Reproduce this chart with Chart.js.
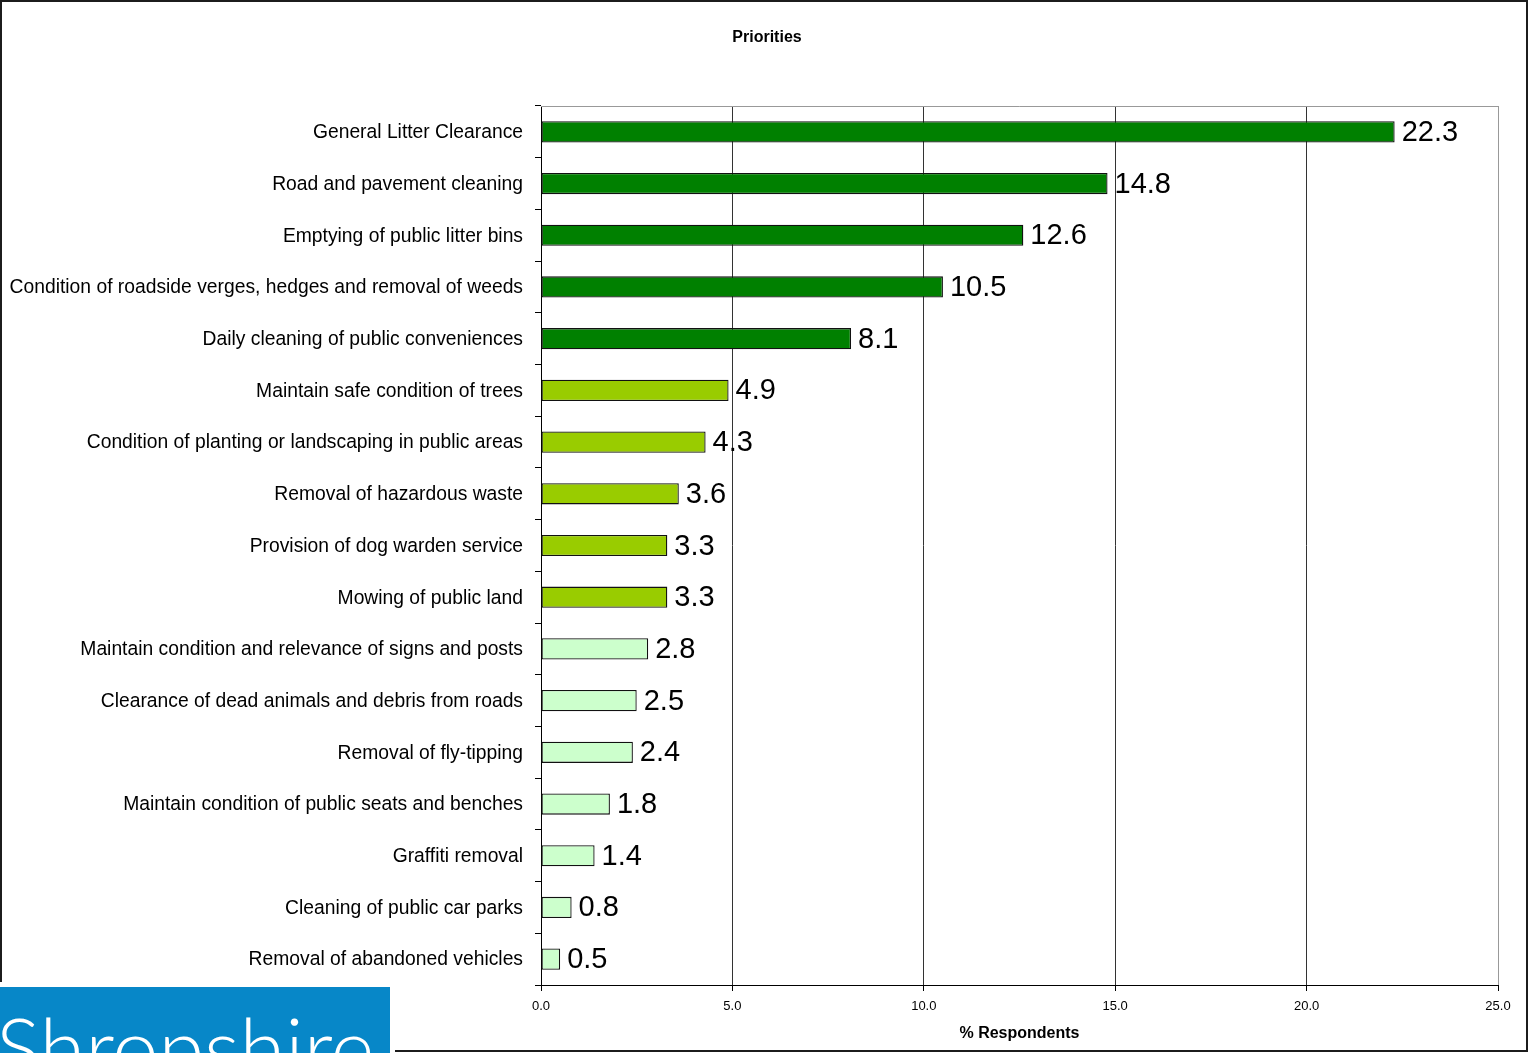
<!DOCTYPE html>
<html>
<head>
<meta charset="utf-8">
<title>Priorities</title>
<script src="https://cdn.jsdelivr.net/npm/chart.js@4.4.1/dist/chart.umd.min.js"></script>
<style>
    html, body { margin: 0; padding: 0; background: #fff; }
    #wrap { position: relative; width: 1529px; height: 1053px; overflow: hidden; }
    #chart { position: absolute; left: 0; top: 0; }
    #frame {
        position: absolute; left: 0; top: 0; width: 1528px; height: 1052px;
        box-sizing: border-box; border: 2px solid #1c1c1c; pointer-events: none;
    }
    #logoGap { position: absolute; left: 0; top: 982px; width: 395px; height: 71px; background: #fff; }
    #logo {
        position: absolute; left: 0; top: 987px; width: 390px; height: 66px;
        background: #0787c8; overflow: hidden;
    }
    #logo span {
        position: absolute; left: -4px; top: 18px; line-height: 83px;
        font-family: Lato, "Open Sans", sans-serif; font-weight: 300; font-size: 83px;
        color: #fff; white-space: nowrap;
    }
</style>
</head>
<body>
<div id="wrap">
    <canvas id="chart" width="1529" height="1053"></canvas>
    <div id="frame"></div>
    <div id="logoGap"></div>
    <div id="logo"><span>Shropshire</span></div>
</div>
<script>
// Survey priorities, % of respondents
const categories = [
    'General Litter Clearance',
    'Road and pavement cleaning',
    'Emptying of public litter bins',
    'Condition of roadside verges, hedges and removal of weeds',
    'Daily cleaning of public conveniences',
    'Maintain safe condition of trees',
    'Condition of planting or landscaping in public areas',
    'Removal of hazardous waste',
    'Provision of dog warden service',
    'Mowing of public land',
    'Maintain condition and relevance of signs and posts',
    'Clearance of dead animals and debris from roads',
    'Removal of fly-tipping',
    'Maintain condition of public seats and benches',
    'Graffiti removal',
    'Cleaning of public car parks',
    'Removal of abandoned vehicles'
];
const percentages = [22.3, 14.8, 12.6, 10.5, 8.1, 4.9, 4.3, 3.6, 3.3, 3.3, 2.8, 2.5, 2.4, 1.8, 1.4, 0.8, 0.5];
const tiers = ['high', 'high', 'high', 'high', 'high',
    'medium', 'medium', 'medium', 'medium', 'medium',
    'low', 'low', 'low', 'low', 'low', 'low', 'low'];
const xTicks = [0, 5, 10, 15, 20, 25];

const tierColours = { high: '#008000', medium: '#99cc00', low: '#ccffcc' };
const FONT = '"Liberation Sans", Arial, sans-serif';

// heading, centred on the page rather than on the plot
const heading = {
    id: 'heading',
    afterDraw(chart) {
        const { ctx } = chart;
        ctx.save();
        ctx.font = `bold 16px ${FONT}`;
        ctx.fillStyle = '#000';
        ctx.textAlign = 'center';
        ctx.textBaseline = 'middle';
        ctx.fillText('Priorities', 767, 38);
        ctx.restore();
    }
};

// plot frame: grey top and right edges
const plotFrame = {
    id: 'plotFrame',
    beforeDatasetsDraw(chart) {
        const { ctx, chartArea: a } = chart;
        ctx.save();
        ctx.strokeStyle = '#999';
        ctx.lineWidth = 1;
        ctx.beginPath();
        ctx.moveTo(a.left, a.top + 0.5);
        ctx.lineTo(a.right + 0.5, a.top + 0.5);
        ctx.lineTo(a.right + 0.5, a.bottom);
        ctx.stroke();
        ctx.restore();
    }
};

// value printed just past the end of each bar
const barValues = {
    id: 'barValues',
    afterDatasetsDraw(chart) {
        const { ctx } = chart;
        const meta = chart.getDatasetMeta(0);
        ctx.save();
        ctx.font = `29px ${FONT}`;
        ctx.fillStyle = '#000';
        ctx.textAlign = 'left';
        ctx.textBaseline = 'middle';
        meta.data.forEach((bar, i) => {
            ctx.fillText(percentages[i].toFixed(1), bar.x + 7, bar.y + 1);
        });
        ctx.restore();
    }
};

new Chart(document.getElementById('chart'), {
    type: 'bar',
    data: {
        labels: categories,
        datasets: [{
            data: percentages,
            backgroundColor: tiers.map(t => tierColours[t]),
            borderColor: '#111',
            borderWidth: 1.3,
            borderSkipped: false,
            barPercentage: 0.41,
            categoryPercentage: 1
        }]
    },
    options: {
        indexAxis: 'y',
        responsive: false,
        animation: false,
        devicePixelRatio: 1,
        layout: { padding: { top: 106, right: 31, bottom: 0, left: 0 } },
        plugins: {
            legend: { display: false },
            tooltip: { enabled: false },
            title: { display: false }
        },
        scales: {
            x: {
                type: 'linear',
                min: 0,
                max: 25,
                afterBuildTicks: s => { s.ticks = xTicks.map(v => ({ value: v })); },
                afterFit: s => { s.height = 68; },
                ticks: {
                    color: '#000',
                    font: { family: FONT, size: 13 },
                    padding: 8,
                    maxRotation: 0,
                    callback: v => Number(v).toFixed(1)
                },
                grid: {
                    color: c => (c.tick && c.tick.value === 25 ? '#999' : '#333'),
                    tickColor: '#000',
                    tickLength: 6,
                    lineWidth: 1
                },
                border: { color: '#000', width: 1 },
                title: {
                    display: true,
                    text: '% Respondents',
                    color: '#000',
                    font: { family: FONT, size: 16, weight: 'bold' },
                    padding: { top: 0, bottom: 10 }
                }
            },
            y: {
                afterFit: s => { s.width = 541; },
                ticks: {
                    color: '#000',
                    font: { family: FONT, size: 19.3 },
                    padding: 12,
                    labelOffset: 1,
                    autoSkip: false
                },
                grid: {
                    offset: true,
                    drawOnChartArea: false,
                    color: '#000',
                    tickLength: 6
                },
                border: { color: '#000', width: 1 }
            }
        }
    },
    plugins: [plotFrame, barValues, heading]
});
</script>
</body>
</html>
